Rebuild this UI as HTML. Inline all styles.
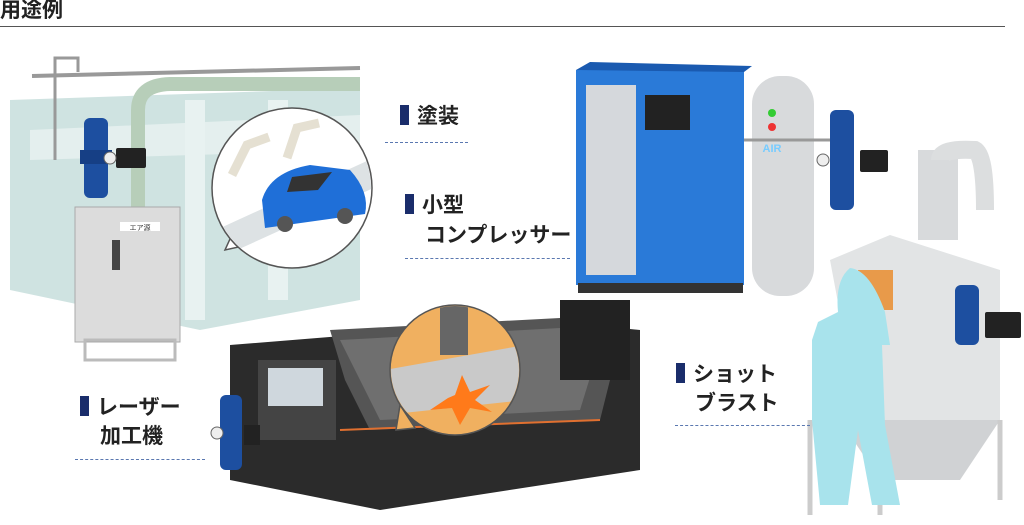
<!DOCTYPE html>
<html><head><meta charset="utf-8"><style>
html,body{margin:0;padding:0;background:#fff;}
body{width:1024px;height:525px;position:relative;overflow:hidden;font-family:"Liberation Sans","Noto Sans CJK JP",sans-serif;}
.t{position:absolute;font-weight:bold;font-size:21px;color:#222;line-height:1;white-space:nowrap;}
.m{display:inline-block;width:9px;height:20px;background:#1a2d6b;margin-right:8px;vertical-align:-2px;}
.d{position:absolute;border-top:1.5px dashed #5a78b0;height:0;}
</style></head><body>
<div class="t" style="left:0;top:0;font-size:21px;">用途例</div>
<div style="position:absolute;left:0;top:26px;width:1005px;height:1px;background:#555;"></div>

<svg width="1024" height="525" style="position:absolute;left:0;top:0">
<defs>
<clipPath id="c1"><circle cx="292" cy="188" r="79"/></clipPath>
<clipPath id="c2"><circle cx="455" cy="370" r="64"/></clipPath>
</defs>
<!-- paint booth -->
<polygon points="10,100 360,88 360,300 200,330 10,290" fill="#cfe3e1"/>
<polygon points="30,130 360,115 360,150 30,160" fill="#e4efee"/>
<rect x="185" y="100" width="20" height="220" fill="#e8f2f1"/>
<rect x="268" y="100" width="20" height="200" fill="#e8f2f1"/>
<line x1="32" y1="76" x2="360" y2="68" stroke="#999" stroke-width="4"/>
<path d="M55,160 V58 H78 V72" stroke="#999" stroke-width="3" fill="none"/>
<path d="M138,220 V110 Q138,85 170,84 H360" stroke="#b7ceb9" stroke-width="14" fill="none"/>
<!-- regulator left -->
<rect x="84" y="118" width="24" height="80" rx="6" fill="#1d4fa0"/>
<rect x="80" y="150" width="32" height="14" fill="#163f85"/>
<rect x="116" y="148" width="30" height="20" rx="2" fill="#222"/>
<circle cx="110" cy="158" r="6" fill="#eee" stroke="#666"/>
<!-- control box -->
<rect x="75" y="207" width="105" height="135" fill="#dcdcdc" stroke="#aaa"/>
<rect x="120" y="222" width="40" height="9" fill="#fff"/>
<text x="140" y="230" font-size="7" text-anchor="middle" fill="#333">エア源</text>
<rect x="112" y="240" width="8" height="30" fill="#444"/>
<rect x="85" y="340" width="90" height="20" fill="none" stroke="#bbb" stroke-width="3"/>
<!-- bubble 1 -->
<polygon points="235,228 225,250 270,240" fill="#fff" stroke="#555" stroke-width="1.5"/>
<circle cx="292" cy="188" r="80" fill="#fff" stroke="#555" stroke-width="1.5"/>
<g clip-path="url(#c1)">
<polygon points="205,235 380,155 380,185 215,260" fill="#dde2e4"/>
<path d="M232,175 l15,-30 l22,-8 M287,158 l10,-30 l22,-5" stroke="#e5e0d2" stroke-width="9" fill="none"/>
<path d="M262,200 Q270,172 310,165 L350,170 Q370,192 365,214 L265,228 Z" fill="#1f6fd8"/>
<polygon points="292,177 332,172 318,190 287,192" fill="#333"/>
<circle cx="285" cy="224" r="8" fill="#555"/><circle cx="345" cy="216" r="8" fill="#555"/>
</g>
<!-- compressor -->
<rect x="576" y="70" width="168" height="215" fill="#2a7ad8"/>
<polygon points="576,70 590,62 752,66 744,72" fill="#1a5ab0"/>
<rect x="586" y="85" width="50" height="190" fill="#d5d8dc"/>
<rect x="645" y="95" width="45" height="35" fill="#222"/>
<rect x="578" y="283" width="165" height="10" fill="#333"/>
<!-- tank -->
<rect x="752" y="76" width="62" height="220" rx="28" fill="#d8dadc"/>
<circle cx="772" cy="113" r="4" fill="#3c3"/><circle cx="772" cy="127" r="4" fill="#e33"/>
<text x="772" y="152" font-size="11" fill="#7cf" font-weight="bold" text-anchor="middle">AIR</text>
<line x1="744" y1="140" x2="830" y2="140" stroke="#999" stroke-width="3"/>
<!-- regulator compressor -->
<rect x="830" y="110" width="24" height="100" rx="6" fill="#1d4fa0"/>
<rect x="860" y="150" width="28" height="22" rx="2" fill="#222"/>
<circle cx="823" cy="160" r="6" fill="#eee" stroke="#666"/>
<!-- blast cabinet -->
<rect x="918" y="150" width="40" height="90" fill="#d8dadc"/>
<path d="M940,160 Q940,148 975,150 Q985,155 985,210" stroke="#dcdedf" stroke-width="18" fill="none"/>
<polygon points="830,260 890,235 1000,270 1000,420 860,420" fill="#e2e4e5"/>
<polygon points="840,420 1000,420 960,480 880,480" fill="#d0d2d4"/>
<rect x="858" y="270" width="35" height="40" fill="#e89a4a"/>
<path d="M810,420 V515 M1000,420 V500 M880,480 V515" stroke="#ccc" stroke-width="5"/>
<rect x="955" y="285" width="24" height="60" rx="6" fill="#1d4fa0"/>
<rect x="985" y="312" width="36" height="26" rx="2" fill="#222"/>
<!-- person -->
<path d="M850,268 Q835,280 838,312 L818,322 L812,340 V420 L820,505 H848 L858,430 L872,505 H900 L885,425 L882,345 L890,345 L885,312 Q870,270 850,268Z" fill="#a8e3ec"/>
<!-- laser machine -->
<polygon points="230,345 540,320 640,330 640,470 380,510 230,480" fill="#2b2b2b"/>
<polygon points="330,330 560,318 620,340 600,420 370,430 345,380" fill="#555"/>
<polygon points="340,340 560,328 600,345 580,410 380,420" fill="#6f6f6f"/>
<rect x="258" y="360" width="78" height="80" fill="#444"/>
<rect x="268" y="368" width="55" height="38" fill="#cfd7dd"/>
<rect x="560" y="300" width="70" height="80" fill="#222"/>
<line x1="340" y1="430" x2="600" y2="420" stroke="#e07030" stroke-width="2"/>
<!-- bubble 2 -->
<polygon points="400,405 415,428 396,430" fill="#f0b060" stroke="#555" stroke-width="1.5"/>
<circle cx="455" cy="370" r="65" fill="#f0b060" stroke="#555" stroke-width="1.5"/>
<g clip-path="url(#c2)">
<polygon points="385,370 525,345 525,400 385,415" fill="#c9c9c9"/>
<rect x="440" y="300" width="28" height="55" fill="#666"/>
<polygon points="455,395 462,375 470,392 490,385 475,400 492,412 470,408 460,425 452,408 430,410 448,398" fill="#ff7a1a"/>
</g>
<!-- regulator laser -->
<rect x="220" y="395" width="22" height="75" rx="6" fill="#1d4fa0"/>
<circle cx="217" cy="433" r="6" fill="#eee" stroke="#666"/>
<rect x="244" y="425" width="16" height="20" fill="#222"/>
</svg>

<div class="t" style="left:400px;top:105px;"><span class="m"></span>塗装</div>
<div class="d" style="left:385px;top:142px;width:83px;"></div>
<div class="t" style="left:405px;top:194px;"><span class="m"></span>小型</div>
<div class="t" style="left:425px;top:225px;">コンプレッサー</div>
<div class="d" style="left:405px;top:258px;width:165px;"></div>
<div class="t" style="left:80px;top:396px;"><span class="m"></span>レーザー</div>
<div class="t" style="left:100px;top:426px;">加工機</div>
<div class="d" style="left:75px;top:459px;width:130px;"></div>
<div class="t" style="left:676px;top:363px;"><span class="m"></span>ショット</div>
<div class="t" style="left:695px;top:393px;">ブラスト</div>
<div class="d" style="left:675px;top:425px;width:135px;"></div>
</body></html>
